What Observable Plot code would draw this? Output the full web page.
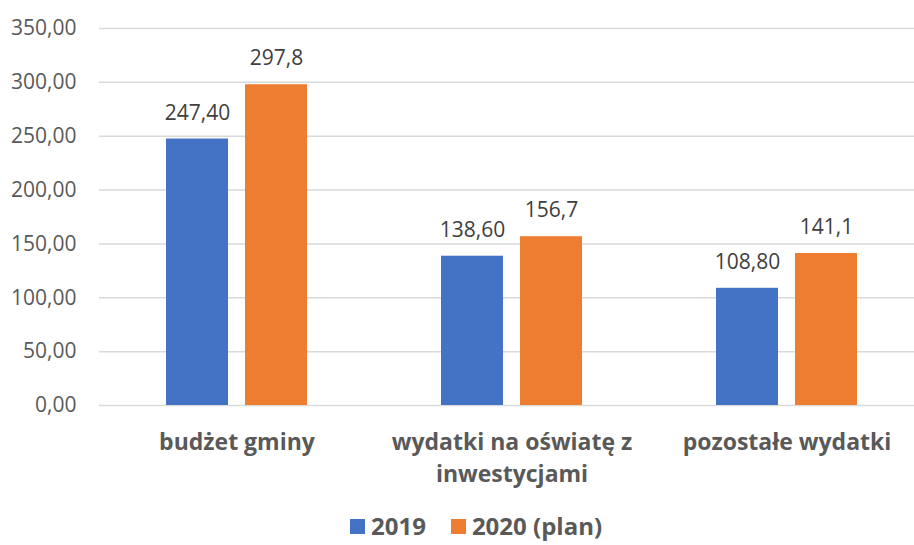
<!DOCTYPE html>
<html>
<head>
<meta charset="utf-8">
<script src="https://cdn.jsdelivr.net/npm/d3@7"></script>
<script src="https://cdn.jsdelivr.net/npm/@observablehq/plot@0.6"></script>
<style>
  html, body { margin: 0; padding: 0; background: #fff; overflow: hidden; }
  body { width: 914px; height: 545px; font-family: "Open Sans", sans-serif; }
  #legend { display: flex; align-items: center; height: 36px; padding-left: 350px; margin-top: 8px; color: #595959;
    font-weight: bold; font-size: 24px; line-height: 1; }
  #legend .sw { width: 15px; height: 15px; display: inline-block; margin-right: 6px; }
  #legend .item { display: flex; align-items: center; margin-right: 25px; }
</style>
</head>
<body>
<div id="chart"></div>
<div id="legend"></div>
<script>
const categories = ["budżet gminy", "wydatki na oświatę z\ninwestycjami", "pozostałe wydatki"];
const series = ["2019", "2020 (plan)"];
const colors = ["#4472C4", "#ED7D31"];
const values2019 = [247.4, 138.6, 108.8];
const values2020 = [297.8, 156.7, 141.1];
const labels2019 = ["247,40", "138,60", "108,80"];
const labels2020 = ["297,8", "156,7", "141,1"];
const yTicks = [0, 50, 100, 150, 200, 250, 300, 350];
const yTickLabels = ["0,00", "50,00", "100,00", "150,00", "200,00", "250,00", "300,00", "350,00"];

const data = [];
categories.forEach((c, i) => {
  data.push({category: c, series: series[0], value: values2019[i], label: labels2019[i]});
  data.push({category: c, series: series[1], value: values2020[i], label: labels2020[i]});
});

const textColor = "#595959";

const chart = Plot.plot({
  width: 914,
  height: 500,
  marginLeft: 99,
  marginRight: -10,
  marginTop: 28,
  marginBottom: 95,
  style: {fontFamily: "'Open Sans', sans-serif", color: textColor, background: "white"},
  fx: {domain: categories, padding: 0, label: null},
  x: {domain: series, paddingInner: 0.215, paddingOuter: 0.848, axis: null},
  y: {domain: [0, 350], label: null},
  color: {domain: series, range: colors},
  marks: [
    Plot.gridY(yTicks, {stroke: "#d9d9d9", strokeOpacity: 1, strokeWidth: 1.5}),
    Plot.axisY(yTicks, {tickSize: 0, tickPadding: 23, tickFormat: (d, i) => yTickLabels[yTicks.indexOf(d)], fontSize: 21, fill: textColor, label: null}),
    Plot.barY(data, {fx: "category", x: "series", y: "value", fill: "series"}),
    Plot.text(data, {fx: "category", x: "series", y: "value", text: "label", dy: -26, fontSize: 21, fill: "#404040"}),
    Plot.axisFx({anchor: "bottom", tickSize: 0, tickPadding: 22, fontSize: 23, fontWeight: "bold", fill: textColor, lineHeight: 1.39, label: null})
  ]
});
document.getElementById("chart").appendChild(chart);

const legend = document.getElementById("legend");
series.forEach((s, i) => {
  const item = document.createElement("span");
  item.className = "item";
  const sw = document.createElement("span");
  sw.className = "sw";
  sw.style.background = colors[i];
  item.appendChild(sw);
  item.appendChild(document.createTextNode(s));
  legend.appendChild(item);
});
</script>
</body>
</html>
